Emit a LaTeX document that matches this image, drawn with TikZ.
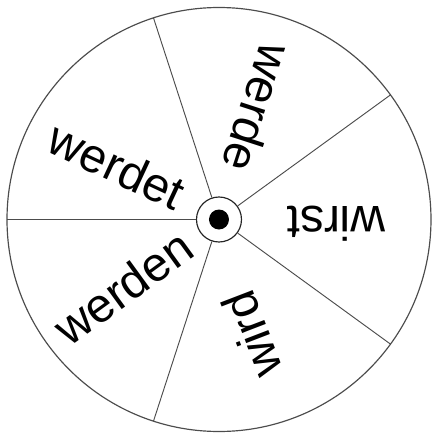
\documentclass[tikz,border=0pt]{standalone}
\usepackage{fontspec}
\setmainfont{Liberation Sans}
\usepackage{tikz}
\usetikzlibrary{positioning}

\begin{document}
\begin{tikzpicture}[x=0.03cm, y=0.03cm,
  rim/.style={draw=black!70, line width=1pt},
  spoke/.style={draw=black!70, line width=0.8pt},
  word/.style={font=\fontsize{41}{46}\selectfont, inner sep=0pt}]
\useasboundingbox (-219,-214.5) rectangle (213,219.5);

% wheel
\draw[rim] (0,0) circle (212);
\node[circle, draw=black!85, line width=1pt, minimum size=1.35cm, inner sep=0pt] (hub) at (0,0) {};
\fill (hub.center) circle (10);

% spokes
\foreach \a in {36,108,180,252,324}
  \draw[spoke] (hub.\a) -- (\a:212);

% words
\node[word, rotate=-25] (werdet) at (-102, 54) {werdet};
\node[word, rotate=-108] (werde) at (39, 111) {werde};
\node[word, rotate=180] (wirst) at (117, -4) {wirst};
\node[word, rotate=111] (wird) at (33, -115) {wird};
\node[word, rotate=36] (werden) at (-96, -68) {werden};

\end{tikzpicture}
\end{document}
